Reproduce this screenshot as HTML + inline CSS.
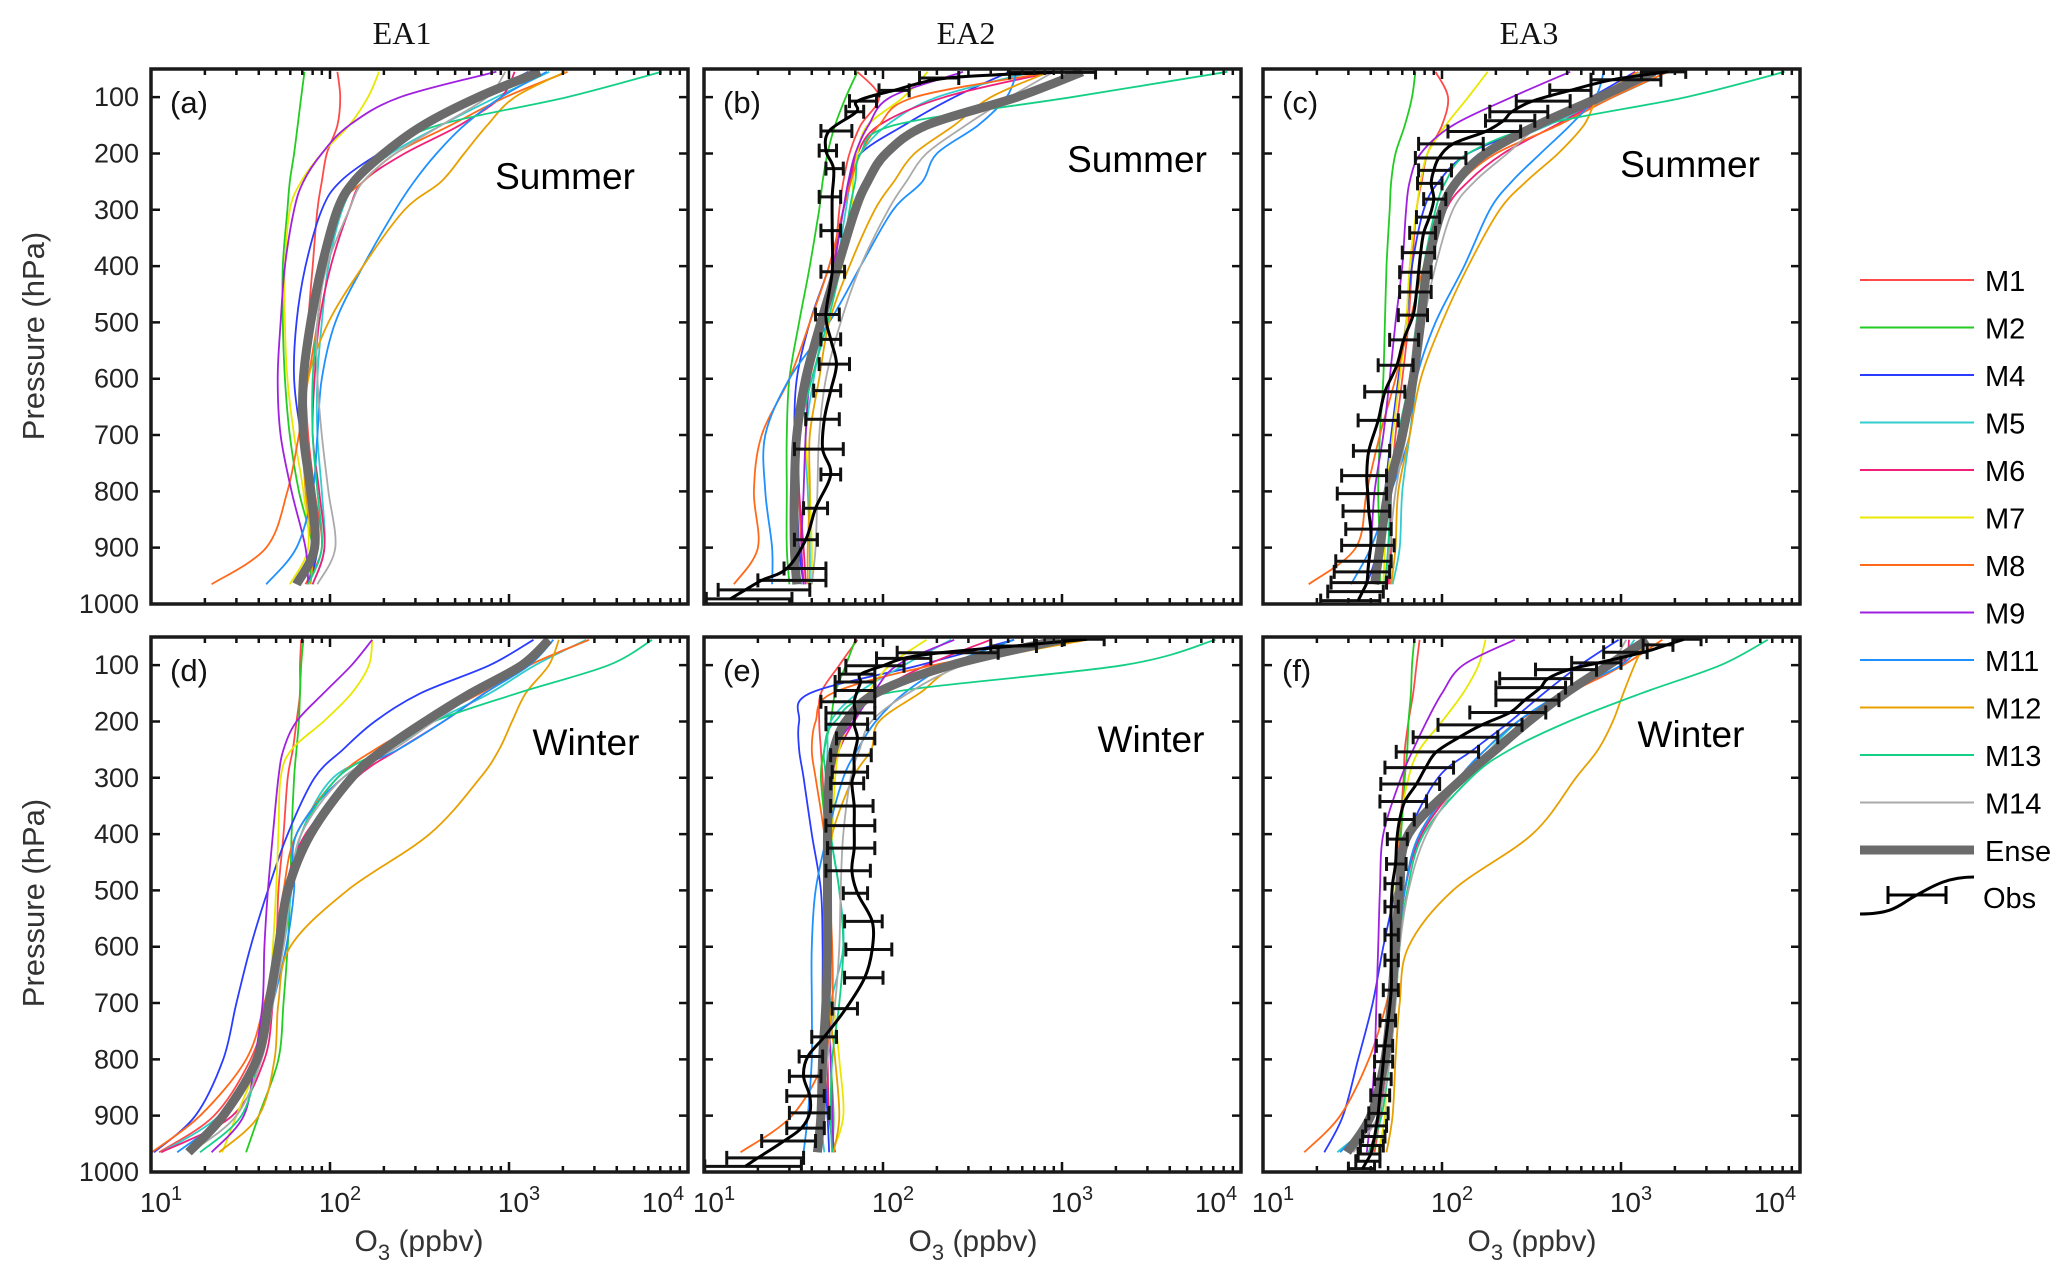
<!DOCTYPE html>
<html><head><meta charset="utf-8"><style>
html,body{margin:0;padding:0;background:#fff;}
svg{display:block;font-family:"Liberation Sans",sans-serif;}
</style></head><body>
<svg id="fig" width="2067" height="1280" viewBox="0 0 2067 1280" xmlns="http://www.w3.org/2000/svg">
<rect x="0" y="0" width="2067" height="1280" fill="#fff"/>
<g font-family="'Liberation Serif',serif" font-size="32" fill="#111" text-anchor="middle">
<text x="402" y="44">EA1</text>
<text x="966" y="44">EA2</text>
<text x="1529" y="44">EA3</text>
</g>
<g font-size="31" fill="#333" text-anchor="middle">
<text transform="translate(44,336) rotate(-90)">Pressure (hPa)</text>
<text transform="translate(44,903) rotate(-90)">Pressure (hPa)</text>
</g>
<g font-size="30" fill="#333" text-anchor="middle">
<text x="419" y="1251">O<tspan font-size="22" dy="9">3</tspan><tspan dy="-9"> (ppbv)</tspan></text>
<text x="973" y="1251">O<tspan font-size="22" dy="9">3</tspan><tspan dy="-9"> (ppbv)</tspan></text>
<text x="1532" y="1251">O<tspan font-size="22" dy="9">3</tspan><tspan dy="-9"> (ppbv)</tspan></text>
</g>
<g id="panels"></g>
<g id="legend"></g>
</svg>
<script>
// ---------- shared data ----------
const levels = [55,100,150,200,250,300,400,500,600,700,800,900,965];
const models = ['M1','M2','M4','M5','M6','M7','M8','M9','M11','M12','M13','M14'];
const yTicks = [100,200,300,400,500,600,700,800,900,1000];
const xDecadeLabels = ['1','2','3','4'];
// ---------- panel (a) EA1 summer ----------
const a_M1  = [110,114,110,96,90,85,80,75.5,73,75.5,82,90,73];
const a_M2  = [72,69,66,63,59.6,57.8,54.5,54.5,56,59.6,67,80,75.5];
const a_M4  = [1285,671,361,188,114,90,73,65,63,69,80,85,75.5];
const a_M5  = [1680,850,418,219,144,117,98,90,85,85,90,93,80];
const a_M6  = [1076,902,530,261,153,128,101,87,82,80,87,93,80];
const a_M7  = [188,163,128,90,69,59.6,56,56,57.8,63,71,75.5,59.6];
const a_M8  = [2125,955,471,232,153,107,93,85,75.5,67,57.8,44,21.8];
const a_M9  = [850,246,128,90,71,63,56,53,51,53,61,73,75.5];
const a_M11 = [1628,902,562,394,295,232,153,107,90,85,80,65,44];
const a_M12 = [2065,1076,755,562,418,261,153,98,75.5,71,73,80,78];
const a_M13 = [7130,2100,400,194,144,114,93,85,80,80,85,90,75.5];
const a_M14 = [955,755,418,232,153,128,96,85,85,90,98,107,85];
const a_Ense = [1490,671,331,200,136,110,90,78,71,71,78,82,65];
// ---------- panel (b) EA2 summer ----------
const b_M1  = [72,95,75,65,60,57,53,46,39,34,34,35,36];
const b_M2  = [72,62,54,49,46,44,39,34,30,29,29,29,30];
const b_M4  = [510,250,131,75,65,60,50,39,33,32,33,34,36];
const b_M5  = [690,200,105,75,66,62,55,47,41,37,38,39,39];
const b_M6  = [900,220,95,72,66,60,53,43,36,33,34,36,37];
const b_M7  = [178,130,82,72,68,67,59,46,39,37,39,40,40];
const b_M8  = [900,150,95,75,66,60,50,39,30,21,19,20,14.7];
const b_M9  = [280,110,83,70,64,60,53,45,39,37,36,35,36];
const b_M11 = [560,490,340,200,166,114,75,50,30,22,22,24,24];
const b_M12 = [850,400,250,150,115,90,65,50,44,39,39,38,38];
const b_M13 = [8400,1130,115,75,70,65,58,49,40,34,31,32,35];
const b_M14 = [900,510,290,175,135,107,75,58,48,44,43,42,40];
const b_Ense = [1300,560,175,104,82,70,56,45,37,33,32,32,33];
const b_obsP  = [56,66,88,107,126,160,195,227,277,337,410,486,530,574,621,672,725,770,830,886,937,958,975,991];
const b_obsV  = [900,230,115,72,71,50,48,53,52,52,52,48,51,55,51,47,46,51,42,37,29,21,17,14];
const b_obsLo = [510,160,95,65,62,45,44,48,44,45,45,42,45,44,41,37,32,45,36,32,28,20,12,10.3];
const b_obsHi = [1540,265,140,92,78,67,55,60,58,58,61,57,58,65,58,57,60,58,49,43,48,48,39,31];
// ---------- panel (c) EA3 summer ----------
const c_M1  = [92,108,100,83,77,72,68,65,60,55,52,52,51];
const c_M2  = [71,68,62,55,52,51,49,48,47,45,44,45,45];
const c_M4  = [1200,680,330,140,96,79,68,63,57,52,48,44,38];
const c_M5  = [1830,900,390,175,115,96,83,76,72,66,60,58,53];
const c_M6  = [1200,820,430,220,140,105,83,72,66,57,52,51,50];
const c_M7  = [180,140,105,83,76,72,66,63,58,53,49,48,47];
const c_M8  = [1830,900,445,200,127,100,79,66,55,45,38,33,18];
const c_M9  = [520,245,115,76,66,63,60,55,51,47,42,40,38];
const c_M11 = [800,720,520,355,245,185,133,92,72,66,52,40,31];
const c_M12 = [1250,760,620,445,295,210,140,100,76,66,57,55,52];
const c_M13 = [8200,2300,355,140,105,92,79,72,66,57,52,50,48];
const c_M14 = [1300,720,355,232,152,115,92,79,72,63,55,51,49];
const c_Ense = [1530,760,340,175,121,100,83,76,69,60,50,45,42];
const c_obsP  = [55,69,88,107,126,142,161,183,208,230,253,281,313,341,376,411,446,487,531,576,623,674,728,772,804,835,867,896,924,943,962,978,994];
const c_obsV  = [1830,900,520,320,245,220,175,115,96,90,87,90,85,79,76,74,72,69,61,56,48,44,39,38,38.5,39,40,40,39,38.5,38,36,34];
const c_obsLo = [1300,680,400,260,185,175,108,74,71,74,73,79,72,66,60,58,58,57,51,44,37,34,32,27.5,26,28,29,27.5,25.5,25,24,23,21];
const c_obsHi = [2300,1670,680,520,390,330,275,170,136,113,100,105,97,92,91,87,87,83,74,69,62,57,51,49,49,51,52,54,52,51,49,47,45];
// ---------- panel (d) EA1 winter ----------
const d_M1  = [69,68,68,65,62,58,55,51.5,50,45.5,36,22.5,11.1];
const d_M2  = [71,69,68,67,65,63,61,60,58,55,51.5,40,34];
const d_M4  = [1370,780,320,178,118,82,58,45,36,30,25.3,17.7,10.4];
const d_M5  = [2700,1400,780,380,213,104,69,61,55,45.5,38,24,11.4];
const d_M6  = [1600,1240,730,430,240,140,73,56,51.5,48,43,28.5,11.4];
const d_M7  = [172,165,132,92,61,53,51.5,50,48,45.5,40,30,25];
const d_M8  = [2800,1300,690,340,178,110,65,55,50,43,34,18.8,10.1];
const d_M9  = [172,132,92,65,55,51.5,48,45,43,42,38,33,21.8];
const d_M11 = [1770,1300,730,430,240,118,65,63,57,48,40,25.3,14];
const d_M12 = [1900,1670,1240,1040,880,690,360,125,60,51.5,49,40,24];
const d_M13 = [6300,3600,1110,380,200,110,69,60,53,47,40,32,18.8];
const d_M14 = [1670,1110,650,380,225,118,69,60,55,48,41.5,30,16.6];
const d_Ense = [1670,1180,612,340,200,132,78,58,51.5,45.5,39,25.3,16.2];
// ---------- panel (e) EA2 winter ----------
const e_M1  = [72,57,45,44,45,46,48,48,47,46,47,50,53];
const e_M2  = [70,62,54,51,47,45,48,49,49,50,51,53,52];
const e_M4  = [540,160,39,34,34,36,40,45,46,46,47,49,50];
const e_M5  = [240,131,72,51,49,49,51,57,60,51,46,45,47];
const e_M6  = [400,175,91,69,57,52,49,48,48,48,49,50,54];
const e_M7  = [175,109,82,65,57,54,52,50,50,53,57,60,52];
const e_M8  = [1300,190,52,42,40,42,47,50,52,52,47,31,16];
const e_M9  = [250,120,88,68,53,51,50,50,50,50,51,52,53];
const e_M11 = [540,230,131,91,72,60,49,42,40,40,40,38,36];
const e_M12 = [1380,280,160,95,86,68,52,47,48,50,54,57,53];
const e_M13 = [7200,2200,104,54,47,48,51,57,60,57,52,51,52];
const e_M14 = [850,280,138,86,74,66,60,58,57,54,49,46,43];
const e_Ense = [980,240,91,62,53,50,49,49,49,48,46,45,43];
const e_obsP  = [54,66,78,88,101,116,130,145,165,185,205,230,260,290,310,350,385,425,465,505,555,605,655,710,760,795,830,865,895,922,945,975,990];
const e_obsV  = [1380,540,210,130,100,75,75,72,69,70,69,72,69,69,67,69,69,69,67,72,87,87,79,62,47,38,36,39,39,35,28,20,17];
const e_obsLo = [1030,400,120,92,62,57,54,54,45,48,48,55,51,52,51,51,48,49,48,60,61,62,61,52,40,34,30,29,30,29,21,13.4,10.1];
const e_obsHi = [1720,720,440,185,131,90,90,90,90,90,82,90,86,82,78,88,90,90,85,82,99,112,100,72,55,46,45,47,50,47,42,36,35];
// ---------- panel (f) EA3 winter ----------
const f_M1  = [75,72,69,65,62,61,58,55.5,53,51,48,45,42];
const f_M2  = [70,68,67,65,64,62,59,55,53,51,48,45,41];
const f_M4  = [970,590,370,240,150,95,65,55,47,41,34,28,22];
const f_M5  = [1190,900,465,265,185,131,75,62,57,53,48,42,26];
const f_M6  = [1110,1000,510,290,190,131,77,62,57,53,49,45,39];
const f_M7  = [175,160,131,100,75,65,57,55,53,52,49,48,44];
const f_M8  = [1700,1030,510,265,175,125,75,62,57,49,39,27,17];
const f_M9  = [255,131,100,82,69,59,47,45,44,43,42,40,38];
const f_M11 = [1340,1000,465,265,175,125,75,62,57,52,48,40,27];
const f_M12 = [1380,1190,1030,900,745,560,320,115,65,58,55,53,49];
const f_M13 = [6600,3600,1300,510,240,145,79,64,58,55,51,46,39];
const f_M14 = [1070,850,490,290,185,131,82,65,58,55,51,44,32];
const f_Ense = [1400,850,490,305,200,131,65,58,55,52,48,40,29.5];
const f_obsP  = [54,64,77,96,108,124,140,162,184,206,228,254,282,311,342,374,409,453,488,529,579,624,677,731,776,804,835,864,896,918,937,953,968,981,994];
const f_obsV  = [2250,1800,1340,745,510,390,355,290,240,167,125,93,81,72,62,58,56,55,53,52,52,52,52,50,48,47,46,45,44,43,42,41,40,38,36];
const f_obsLo = [1950,1330,800,530,333,210,200,200,143,95,69,55.5,48,45.5,45,48,49.5,49,48,48,48,48,47,45,43,42,42,40,39,37.5,36,35,34,33,30];
const f_obsHi = [2800,1950,1400,1000,730,530,490,450,380,280,205,160,116,97,82,70,64,63,59,57,57,57,57,55,53,53,52,51,50,49,48,47,45,45,42];

// ---------- styling / layout ----------
const modelColors = ['#ff4a4a','#22cc22','#2a3cff','#33cccc','#f0207a','#e8e800','#ff6a1a','#a020e0','#1e90ff','#e8a000','#14d087','#aaaaaa'];
const panels = [
  {id:'a', left:151, top:69,  label:'(a)', season:'Summer', sx:565, sy:176, series:[a_M1,a_M2,a_M4,a_M5,a_M6,a_M7,a_M8,a_M9,a_M11,a_M12,a_M13,a_M14], ense:a_Ense, obs:null, yLabels:true, xLabels:false},
  {id:'b', left:704, top:69,  label:'(b)', season:'Summer', sx:1137, sy:159, series:[b_M1,b_M2,b_M4,b_M5,b_M6,b_M7,b_M8,b_M9,b_M11,b_M12,b_M13,b_M14], ense:b_Ense, obs:[b_obsP,b_obsV,b_obsLo,b_obsHi], yLabels:false, xLabels:false},
  {id:'c', left:1263, top:69, label:'(c)', season:'Summer', sx:1690, sy:164, series:[c_M1,c_M2,c_M4,c_M5,c_M6,c_M7,c_M8,c_M9,c_M11,c_M12,c_M13,c_M14], ense:c_Ense, obs:[c_obsP,c_obsV,c_obsLo,c_obsHi], yLabels:false, xLabels:false},
  {id:'d', left:151, top:637, label:'(d)', season:'Winter', sx:586, sy:742, series:[d_M1,d_M2,d_M4,d_M5,d_M6,d_M7,d_M8,d_M9,d_M11,d_M12,d_M13,d_M14], ense:d_Ense, obs:null, yLabels:true, xLabels:true},
  {id:'e', left:704, top:637, label:'(e)', season:'Winter', sx:1151, sy:739, series:[e_M1,e_M2,e_M4,e_M5,e_M6,e_M7,e_M8,e_M9,e_M11,e_M12,e_M13,e_M14], ense:e_Ense, obs:[e_obsP,e_obsV,e_obsLo,e_obsHi], yLabels:false, xLabels:true},
  {id:'f', left:1263, top:637, label:'(f)', season:'Winter', sx:1691, sy:734, series:[f_M1,f_M2,f_M4,f_M5,f_M6,f_M7,f_M8,f_M9,f_M11,f_M12,f_M13,f_M14], ense:f_Ense, obs:[f_obsP,f_obsV,f_obsLo,f_obsHi], yLabels:false, xLabels:true}
];
const PW = 537, PH = 535;
const xLabelShift = [10,10,10,-25];
const NS = 'http://www.w3.org/2000/svg';
function mk(tag, attrs, parent){ const el=document.createElementNS(NS,tag); for(const k in attrs) el.setAttribute(k,attrs[k]); if(parent) parent.appendChild(el); return el; }
function xScale(p, v){ return p.left + (Math.log10(v)-1)/3*PW; }
function yScale(p, pr){ return p.top + (pr-50)/950*PH; }
function smooth(pts){
  let d='M'+pts[0][0].toFixed(1)+','+pts[0][1].toFixed(1);
  for(let i=0;i<pts.length-1;i++){
    const p0=pts[i-1]||pts[i], p1=pts[i], p2=pts[i+1], p3=pts[i+2]||pts[i+1];
    const c1x=p1[0]+(p2[0]-p0[0])/6, c1y=p1[1]+(p2[1]-p0[1])/6;
    const c2x=p2[0]-(p3[0]-p1[0])/6, c2y=p2[1]-(p3[1]-p1[1])/6;
    d+=` C${c1x.toFixed(1)},${c1y.toFixed(1)} ${c2x.toFixed(1)},${c2y.toFixed(1)} ${p2[0].toFixed(1)},${p2[1].toFixed(1)}`;
  }
  return d;
}
const root=document.getElementById('panels');
const defs=mk('defs',{},root);
panels.forEach(p=>{
  const cp=mk('clipPath',{id:'clip-'+p.id},defs);
  mk('rect',{x:p.left,y:p.top,width:PW,height:PH},cp);
  const g=mk('g',{},root);
  
  
  const plot=mk('g',{'clip-path':'url(#clip-'+p.id+')'},g);
  p.series.forEach((vals,i)=>{
    const pts=vals.map((v,j)=>[xScale(p,v),yScale(p,levels[j])]);
    const path=mk('path',{d:smooth(pts),fill:'none',stroke:modelColors[i],'stroke-width':1.8},plot);
    
    
  });
  const ep=p.ense.map((v,j)=>[xScale(p,v),yScale(p,levels[j])]);
  const ens=mk('path',{d:smooth(ep),fill:'none',stroke:'#6b6b6b','stroke-width':9,'stroke-linecap':'butt'},plot);
  
  
  if(p.obs){
    const [P,V,LO,HI]=p.obs;
    const og=mk('g',{},plot);
    
    
    P.forEach((pr,j)=>{
      const y=yScale(p,pr), x1=xScale(p,LO[j]), x2=xScale(p,HI[j]);
      const eb=mk('path',{d:`M${x1},${y}H${x2}M${x1},${y-7}V${y+7}M${x2},${y-7}V${y+7}`,stroke:'#111','stroke-width':3,fill:'none'},og);
      
      
    });
    const op=P.map((pr,j)=>[xScale(p,V[j]),yScale(p,pr)]);
    const ol=mk('path',{d:smooth(op),fill:'none',stroke:'#000','stroke-width':3},og);
    
    
  }
  let td='';
  const R=p.left+PW, B=p.top+PH;
  yTicks.forEach(t=>{ const y=yScale(p,t); td+=`M${p.left},${y}h9M${R},${y}h-9`; });
  for(let dec=1;dec<=4;dec++){
    for(let m=1;m<=9;m++){
      if(dec===4 && m>1) break;
      const x=xScale(p,m*Math.pow(10,dec)); const L=(m===1)?10:6;
      td+=`M${x},${B}v-${L}M${x},${p.top}v${L}`;
    }
  }
  const ticks=mk('path',{d:td,stroke:'#111','stroke-width':2.5,fill:'none'},g);
  
  
  const frame=mk('rect',{x:p.left,y:p.top,width:PW,height:PH,fill:'none',stroke:'#1a1a1a','stroke-width':3.5},g);
  
  
  const pl=mk('text',{x:p.left+19,y:p.top+44,'font-size':31,fill:'#111'},g);
  pl.textContent=p.label;
  
  
  const se=mk('text',{x:p.sx,y:p.sy+13,'font-size':37,fill:'#000','text-anchor':'middle'},g);
  se.textContent=p.season;
  
  
  if(p.yLabels){
    yTicks.forEach(t=>{
      const tl=mk('text',{x:p.left-12,y:yScale(p,t)+9,'font-size':27,fill:'#222','text-anchor':'end'},g);
      tl.textContent=String(t);
      
      
    });
  }
  if(p.xLabels){
    xDecadeLabels.forEach((s,k)=>{
      const x=xScale(p,Math.pow(10,k+1))+xLabelShift[k];
      const tl=mk('text',{x:x,y:1212,'font-size':28,fill:'#222','text-anchor':'middle'},g);
      
      
      const t1=mk('tspan',{},tl); t1.textContent='10';
      const t2=mk('tspan',{'font-size':20,dy:-12},tl); t2.textContent=s;
    });
  }
});
const lg=document.getElementById('legend');
const legendNames=models.concat(['Ense']);
legendNames.forEach((n,i)=>{
  const y=280+i*47.5;
  const item=mk('g',{},lg);
  
  
  if(n==='Ense') mk('line',{x1:1860,y1:y,x2:1974,y2:y,stroke:'#6b6b6b','stroke-width':9},item);
  else mk('line',{x1:1860,y1:y,x2:1974,y2:y,stroke:modelColors[i],'stroke-width':2},item);
  const t=mk('text',{x:1985,y:y+11,'font-size':29,fill:'#000'},item);
  t.textContent=n;
});
const ob=mk('g',{},lg);


mk('path',{d:'M1860,914 C1895,914 1900,904 1915,896 S1945,877 1974,877',fill:'none',stroke:'#000','stroke-width':3},ob);
mk('path',{d:'M1888,895H1946M1888,886V904M1946,886V904',fill:'none',stroke:'#000','stroke-width':3},ob);
const ot=mk('text',{x:1983,y:908,'font-size':29,fill:'#000'},ob);
ot.textContent='Obs';
</script>
</body></html>
